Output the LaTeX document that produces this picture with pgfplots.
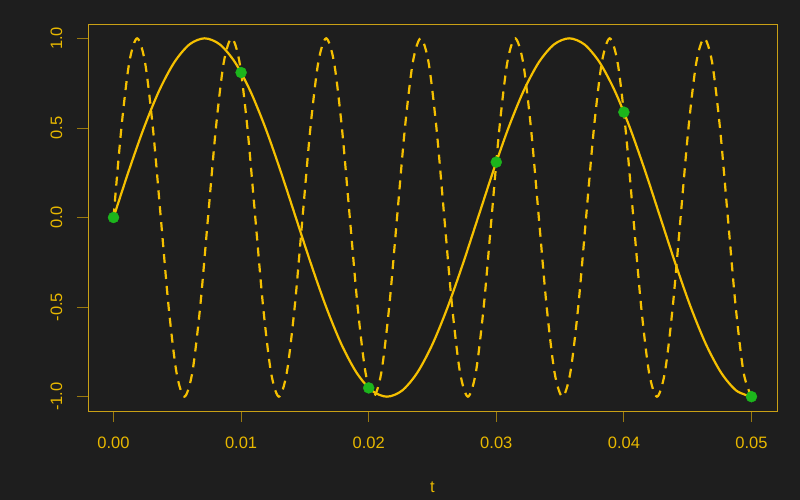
\documentclass[border=0pt]{standalone}
\usepackage{pgfplots}
\pgfplotsset{compat=1.18}
\usepackage{fontspec}
\setmainfont{Liberation Sans}
\definecolor{bg}{HTML}{1E1E1E}
\definecolor{gold}{HTML}{F5C000}
\definecolor{txt}{HTML}{E8B800}
\definecolor{boxc}{HTML}{C9A015}
\definecolor{tickc}{HTML}{9A7A10}
\definecolor{pts}{HTML}{1CB51C}
\begin{document}
\fontsize{16.5bp}{19bp}\selectfont
\begin{tikzpicture}
\fill[bg] (-88bp,-89bp) rectangle (712bp,411bp);
\begin{axis}[
  scale only axis, width=689bp, height=387bp,
  xmin=-0.002, xmax=0.052, ymin=-1.08, ymax=1.08,
  scaled x ticks=false, scaled y ticks=false,
  axis line style={boxc, line width=0.8bp},
  tick style={tickc, line width=0.8bp},
  major tick length=11bp, tick align=outside,
  xtick={0,0.01,0.02,0.03,0.04,0.05},
  xticklabels={0.00,0.01,0.02,0.03,0.04,0.05},
  ytick={-1,-0.5,0,0.5,1},
  yticklabels={-1.0,-0.5,0.0,0.5,1.0},
  yticklabel style={rotate=90, anchor=south, yshift=9bp},
  xticklabel style={yshift=-9bp},
  ticklabel style={text=txt, font=\fontsize{16.5bp}{19bp}\selectfont},
  xtick pos=bottom, ytick pos=left,
  xlabel={t}, xlabel style={text=txt, font=\fontsize{16.5bp}{19bp}\selectfont, yshift=-22bp},
  clip=false,
]
\addplot[only marks, mark=*, mark size=5.5bp, color=pts] coordinates {
(0,0) (0.01,0.809) (0.02,-0.951) (0.03,0.309) (0.04,0.588) (0.05,-1.0)};
\addplot[smooth, gold, line width=2.2bp, dash pattern=on 9bp off 7bp] coordinates {
(0,0) (0.000617,0.5) (0.001235,0.866) (0.001852,1) (0.002469,0.866) (0.003086,0.5)
(0.003704,0) (0.004321,-0.5) (0.004938,-0.866) (0.005556,-1) (0.006173,-0.866) (0.006790,-0.5)
(0.007407,0) (0.008025,0.5) (0.008642,0.866) (0.009259,1) (0.009877,0.866) (0.010494,0.5)
(0.011111,0) (0.011728,-0.5) (0.012346,-0.866) (0.012963,-1) (0.013580,-0.866) (0.014198,-0.5)
(0.014815,0) (0.015432,0.5) (0.016049,0.866) (0.016667,1) (0.017284,0.866) (0.017901,0.5)
(0.018519,0) (0.019136,-0.5) (0.019753,-0.866) (0.020370,-1) (0.020988,-0.866) (0.021605,-0.5)
(0.022222,0) (0.022840,0.5) (0.023457,0.866) (0.024074,1) (0.024691,0.866) (0.025309,0.5)
(0.025926,0) (0.026543,-0.5) (0.027160,-0.866) (0.027778,-1) (0.028395,-0.866) (0.029012,-0.5)
(0.029630,0) (0.030247,0.5) (0.030864,0.866) (0.031481,1) (0.032099,0.866) (0.032716,0.5)
(0.033333,0) (0.033951,-0.5) (0.034568,-0.866) (0.035185,-1) (0.035802,-0.866) (0.036420,-0.5)
(0.037037,0) (0.037654,0.5) (0.038272,0.866) (0.038889,1) (0.039506,0.866) (0.040123,0.5)
(0.040741,0) (0.041358,-0.5) (0.041975,-0.866) (0.042593,-1) (0.043210,-0.866) (0.043827,-0.5)
(0.044444,0) (0.045062,0.5) (0.045679,0.866) (0.046296,1) (0.046914,0.866) (0.047531,0.5)
(0.048148,0) (0.048765,-0.5) (0.049383,-0.866) (0.050000,-1)};
\addplot[smooth, gold, line width=2.2bp] coordinates {
(0,0) (0.001190,0.259) (0.002381,0.5) (0.003571,0.707) (0.004762,0.866) (0.005952,0.966)
(0.007143,1) (0.008333,0.966) (0.009524,0.866) (0.010714,0.707) (0.011905,0.5) (0.013095,0.259)
(0.014286,0) (0.015476,-0.259) (0.016667,-0.5) (0.017857,-0.707) (0.019048,-0.866) (0.020238,-0.966)
(0.021429,-1) (0.022619,-0.966) (0.023810,-0.866) (0.025000,-0.707) (0.026190,-0.5) (0.027381,-0.259)
(0.028571,0) (0.029762,0.259) (0.030952,0.5) (0.032143,0.707) (0.033333,0.866) (0.034524,0.966)
(0.035714,1) (0.036905,0.966) (0.038095,0.866) (0.039286,0.707) (0.040476,0.5) (0.041667,0.259)
(0.042857,0) (0.044048,-0.259) (0.045238,-0.5) (0.046429,-0.707) (0.047619,-0.866) (0.048810,-0.966)
(0.050000,-1)};
\end{axis}
\end{tikzpicture}
\end{document}
